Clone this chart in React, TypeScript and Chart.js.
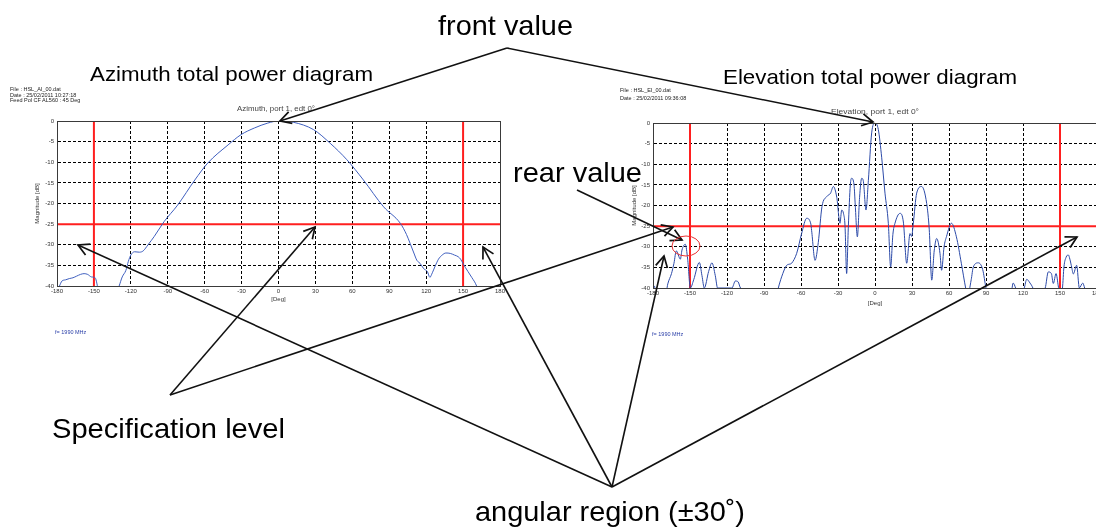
import React, { useEffect, useRef } from "react";
import { Chart, registerables } from "chart.js";

Chart.register(...registerables);

// ---------- data ----------
const X_TICKS = [-180, -150, -120, -90, -60, -30, 0, 30, 60, 90, 120, 150, 180];
const Y_MAX = 0;
const Y_MIN = -40;
const Y_STEP = 5;
const SPEC_LEVEL = -25;
const REGION_LIMITS = [-150, 150];

const AZ_ANGLE = [
  -180, -178, -176, -173, -170, -167, -164, -161, -158, -155, -152, -149, -147.5, -146,
  -132, -129.5, -127, -124, -122, -120, -117, -113, -110, -106, -101, -93, -82, -68,
  -57.5, -41, -30.4, -19.6, -8.7, 0, 12, 28.5, 42, 55.6, 69, 85.4, 99, 104, 107, 110,
  112.5, 115, 118, 121, 123, 125, 127, 130, 133, 136, 139.6, 143, 146, 148, 150, 154,
  157, 161, 163, 180,
];
const AZ_DB = [
  -41, -40, -38.8, -38.5, -38.2, -38, -37.6, -37.2, -37, -37.2, -37.8, -38, -39.5, -42,
  -42, -40, -37.8, -36.2, -34, -32.5, -31.7, -31.8, -31.5, -30, -28, -24.4, -20.4, -14.3,
  -10.2, -5.8, -3.3, -1.7, -0.5, 0, -0.3, -2.1, -5.4, -9.4, -14.3, -20.8, -24.8, -27.5, -29.7, -32,
  -33.8, -34.5, -35.8, -36.5, -37.9, -36.8, -35.4, -33.5, -32.5, -32, -32.1, -32.5, -32.9, -33.5, -34.6, -36.5,
  -37.9, -40, -42, -42,
];

const EL_ANGLE = [
  -180, -179, -177, -170, -168, -165, -163, -161.1, -157.8, -156.5, -153.8, -151.9, -149.7,
  -147, -142.4, -140.3, -138.4, -134.9, -132.2, -129.5, -127.6, -116, -113.2, -111, -109, -80,
  -78.4, -75.7, -71.6, -69, -67.6, -63.5, -59.5, -55.4, -52, -51.4, -48.6, -46, -43, -39, -36,
  -33.8, -31, -28.4, -27, -25.5, -24.3, -23, -21.6, -20, -19, -17, -16, -14.3, -12.5, -10.8,
  -9.5, -7.3, -5.4, -2.7, 0, 2.7, 5.4, 8.1, 10.8, 12.7, 14.5, 16.2, 20.3, 23, 25.7, 28.4,
  29.7, 31, 33.8, 37.8, 41.9, 44, 46, 48, 50, 52.7, 54, 56, 58, 62, 66, 70, 73.5, 75, 78,
  79.7, 83.8, 87.3, 90, 92, 110, 112, 114, 116, 121, 123, 125.7, 128, 130, 138, 140.5, 143,
  144.6, 146.8, 148.6, 150, 152, 153.2, 155, 156.8, 158, 159.5, 160.8, 163.5, 165.7, 168.4,
  170, 172, 180,
];
const EL_DB = [
  -41, -39.5, -42, -42, -39, -36.5, -34, -31, -33, -30.8, -29.4, -33, -40,
  -38, -33.8, -37, -40, -36, -33.9, -37, -40, -40, -38.3, -38.5, -40, -42,
  -40, -37.3, -34.5, -34.2, -34, -31.6, -26.8, -23.1, -24.5, -26, -33.3, -29, -20.3, -17.8, -17,
  -15.4, -18, -24.3, -21.1, -22, -25, -36.5, -25, -15, -13.4, -15, -20, -27.6, -18, -13.4,
  -14, -21.1, -14, -2.4, 0, -1.6, -8.3, -17, -24.3, -34.9, -27, -24.3, -21.9, -24, -34, -26.8,
  -27.5, -24.5, -17, -15.4, -19.5, -25.9, -38.1, -31, -28, -31.6, -35.7, -30, -27.5, -24.3, -27.6, -34, -40, -42, -38,
  -34.9, -33.9, -35.5, -40, -42, -42, -38.8, -40, -42, -40, -37.9, -38.8, -40, -42, -40, -36.1, -36.5,
  -38.9, -36.5, -39.5, -42, -40, -34.9, -32.5, -32, -33, -35, -36.6, -34.5, -40, -38.8,
  -40, -42, -42,
];

// ---------- annotation layout ----------
const ARROWS: [number, number, number, number][] = [
  [507, 48, 280, 121],
  [507, 48, 873, 122],
  [577, 190, 682, 240],
  [170, 395, 315, 227],
  [170, 395, 673, 227],
  [612, 487, 78, 245],
  [612, 487, 483, 247],
  [612, 487, 664, 256],
  [612, 487, 1077, 237],
];

const FONT = "'Liberation Sans', Arial, Helvetica, sans-serif";

const framePlugin = {
  id: "frame",
  afterDatasetsDraw(chart: any) {
    const { ctx, chartArea } = chart;
    ctx.save();
    ctx.strokeStyle = "#3a3a3a";
    ctx.lineWidth = 1;
    ctx.strokeRect(
      Math.round(chartArea.left) + 0.5,
      Math.round(chartArea.top) + 0.5,
      Math.round(chartArea.right - chartArea.left),
      Math.round(chartArea.bottom - chartArea.top)
    );
    ctx.restore();
  },
};

type PanelCfg = {
  angles: number[];
  values: number[];
  color: string;
  padding: { left: number; right: number; top: number; bottom: number };
  yWidth: number;
  xHeight: number;
};

function buildChart(canvas: HTMLCanvasElement, cfg: PanelCfg) {
  const curve = cfg.angles.map((a, i) => ({ x: a, y: cfg.values[i] }));
  const xMin = X_TICKS[0];
  const xMax = X_TICKS[X_TICKS.length - 1];
  const red = "#ff1f1f";
  const datasets: any[] = [
    {
      data: curve,
      borderColor: cfg.color,
      borderWidth: 1,
      pointRadius: 0,
      cubicInterpolationMode: "monotone",
    },
    ...REGION_LIMITS.map((v) => ({
      data: [
        { x: v, y: Y_MAX },
        { x: v, y: Y_MIN },
      ],
      borderColor: red,
      borderWidth: 2,
      pointRadius: 0,
    })),
    {
      data: [
        { x: xMin, y: SPEC_LEVEL },
        { x: xMax, y: SPEC_LEVEL },
      ],
      borderColor: red,
      borderWidth: 2,
      pointRadius: 0,
    },
  ];
  return new Chart(canvas, {
    type: "line",
    data: { datasets },
    plugins: [framePlugin],
    options: {
      animation: false,
      responsive: false,
      devicePixelRatio: 1,
      layout: { padding: cfg.padding },
      plugins: { legend: { display: false }, tooltip: { enabled: false } },
      elements: { line: { tension: 0 } },
      scales: {
        x: {
          type: "linear",
          min: xMin,
          max: xMax,
          afterBuildTicks: (s: any) => {
            s.ticks = X_TICKS.map((v) => ({ value: v }));
          },
          afterFit: (s: any) => {
            s.height = cfg.xHeight;
          },
          ticks: {
            autoSkip: false,
            maxRotation: 0,
            padding: 2,
            color: "#333",
            font: { size: 6, family: FONT },
          },
          grid: { color: "#000", lineWidth: 1, drawTicks: false },
          border: { display: true, color: "#3a3a3a", dash: [3, 2] },
          title: {
            display: true,
            text: "[Deg]",
            color: "#333",
            font: { size: 6, family: FONT },
            padding: { top: 1, bottom: 3 },
          },
        },
        y: {
          type: "linear",
          min: Y_MIN,
          max: Y_MAX,
          ticks: {
            stepSize: Y_STEP,
            padding: 3,
            color: "#333",
            font: { size: 6, family: FONT },
          },
          afterFit: (s: any) => {
            s.width = cfg.yWidth;
          },
          grid: { color: "#000", lineWidth: 1, drawTicks: false },
          border: { display: true, color: "#3a3a3a", dash: [3, 2] },
          title: {
            display: true,
            text: "Magnitude [dB]",
            color: "#333",
            font: { size: 6, family: FONT },
            padding: 4,
          },
        },
      },
    } as any,
  });
}

function Panel(props: {
  cfg: PanelCfg;
  left: number;
  top: number;
  width: number;
  height: number;
}) {
  const ref = useRef<HTMLCanvasElement | null>(null);
  useEffect(() => {
    if (!ref.current) return;
    const chart = buildChart(ref.current, props.cfg);
    return () => chart.destroy();
  }, []);
  return (
    <canvas
      ref={ref}
      width={props.width}
      height={props.height}
      style={{
        position: "absolute",
        left: props.left,
        top: props.top,
        width: props.width,
        height: props.height,
      }}
    />
  );
}

function Txt(p: {
  x: number;
  y: number;
  size: number;
  text: string;
  len?: number;
  color?: string;
  anchor?: "start" | "middle" | "end";
}) {
  const extra: any = p.len ? { textLength: p.len, lengthAdjust: "spacingAndGlyphs" } : {};
  return (
    <text
      x={p.x}
      y={p.y}
      fontSize={p.size}
      fontFamily={FONT}
      fill={p.color || "#000"}
      textAnchor={p.anchor || "start"}
      {...extra}
    >
      {p.text}
    </text>
  );
}

export default function App() {
  const az: PanelCfg = {
    angles: AZ_ANGLE,
    values: AZ_DB,
    color: "#3f5fbf",
    padding: { left: 30, right: 20, top: 21, bottom: 0 },
    yWidth: 27,
    xHeight: 20,
  };
  const el: PanelCfg = {
    angles: EL_ANGLE,
    values: EL_DB,
    color: "#2c4aa8",
    padding: { left: 27, right: 13, top: 23, bottom: 0 },
    yWidth: 26,
    xHeight: 22,
  };
  return (
    <div
      style={{
        position: "fixed",
        left: 0,
        top: 0,
        width: 1096,
        height: 528,
        overflow: "hidden",
        background: "#fff",
      }}
    >
      <Panel cfg={az} left={0} top={100} width={520} height={206} />
      <Panel cfg={el} left={600} top={100} width={510} height={210} />
      <svg
        width={1096}
        height={528}
        style={{ position: "absolute", left: 0, top: 0, pointerEvents: "none" }}
      >
        <defs>
          <marker
            id="ah"
            markerUnits="userSpaceOnUse"
            markerWidth={16}
            markerHeight={16}
            refX={13}
            refY={8}
            orient="auto"
          >
            <path d="M2,2 L13,8 L2,14" fill="none" stroke="#111" strokeWidth={1.7} />
          </marker>
        </defs>
        {ARROWS.map(([x1, y1, x2, y2], i) => (
          <line
            key={i}
            x1={x1}
            y1={y1}
            x2={x2}
            y2={y2}
            stroke="#111"
            strokeWidth={1.6}
            markerEnd="url(#ah)"
          />
        ))}
        <ellipse cx={686} cy={246} rx={14} ry={10} fill="none" stroke="#e83030" strokeWidth={1} />

        <Txt x={438} y={35} size={28} text="front value" len={135} />
        <Txt x={90} y={81} size={21} text="Azimuth total power diagram" len={283} />
        <Txt x={723} y={84} size={21} text="Elevation total power diagram" len={294} />
        <Txt x={513} y={182} size={28} text="rear value" len={129} />
        <Txt x={52} y={438} size={28} text="Specification level" len={233} />
        <Txt x={475} y={521} size={28} text="angular region (±30˚)" len={270} />

        <Txt x={10} y={91} size={5.5} text="File : HSL_AI_00.dat" color="#222" />
        <Txt x={10} y={96.5} size={5.5} text="Date : 25/02/2011  10:27:18" color="#222" />
        <Txt x={10} y={102} size={5.5} text="Feed Pol CF AL560 : 45 Deg" color="#222" />
        <Txt x={620} y={92} size={5.5} text="File : HSL_EI_00.dat" color="#222" />
        <Txt x={620} y={99.5} size={5.5} text="Date : 25/02/2011  09:36:08" color="#222" />

        <Txt x={276} y={111} size={7.5} text="Azimuth, port 1, edt 0°" color="#444" anchor="middle" len={78} />
        <Txt x={875} y={114} size={7.5} text="Elevation, port 1, edt 0°" color="#444" anchor="middle" len={88} />

        <Txt x={55} y={334} size={5.5} text="f= 1990 MHz" color="#2a3fa8" />
        <Txt x={652} y={336} size={5.5} text="f= 1990 MHz" color="#2a3fa8" />
      </svg>
    </div>
  );
}
